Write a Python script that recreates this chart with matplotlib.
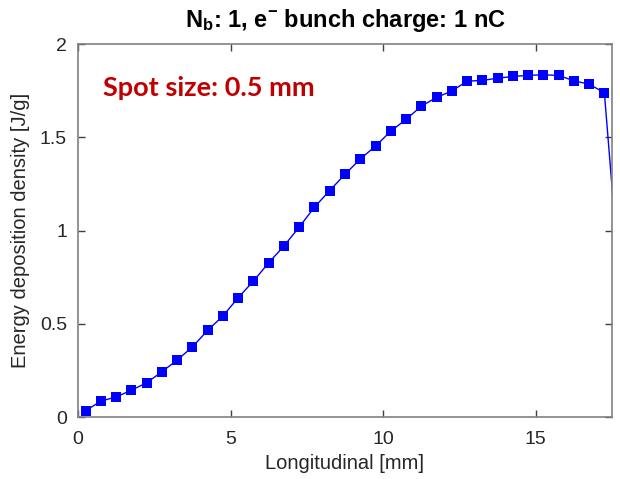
import matplotlib
matplotlib.use("Agg")
import matplotlib.pyplot as plt

plt.rcParams['font.family'] = ['Liberation Sans', 'DejaVu Sans']
plt.rcParams['mathtext.default'] = 'regular'

# Longitudinal position of each sample [mm] and deposited energy density [J/g]
longitudinal_mm = [0.25, 0.75, 1.25, 1.75, 2.25, 2.75, 3.25, 3.75, 4.25, 4.75,
                   5.25, 5.75, 6.25, 6.75, 7.25, 7.75, 8.25, 8.75, 9.25, 9.75,
                   10.25, 10.75, 11.25, 11.75, 12.25, 12.75, 13.25, 13.75, 14.25, 14.75,
                   15.25, 15.75, 16.25, 16.75, 17.25, 17.75]
energy_density = [0.035, 0.087, 0.109, 0.145, 0.185, 0.244, 0.307, 0.377, 0.466, 0.543,
                  0.641, 0.730, 0.828, 0.918, 1.019, 1.126, 1.215, 1.302, 1.384, 1.453,
                  1.533, 1.596, 1.667, 1.714, 1.748, 1.801, 1.805, 1.817, 1.826, 1.832,
                  1.835, 1.832, 1.803, 1.785, 1.739, 0.73]

x_ticks = [0, 5, 10, 15]
y_ticks = [0, 0.5, 1, 1.5, 2]
y_tick_labels = ['0', '0.5', '1', '1.5', '2']

fig = plt.figure(figsize=(6.2, 4.79), dpi=100)
ax = fig.add_axes([0.1258, 0.1288, 0.8613, 0.7793])

ax.plot(longitudinal_mm, energy_density, color='#0000ff', linewidth=1.0,
        marker='s', markersize=6.5, markeredgewidth=0, clip_on=True)

ax.set_xlim(0, 17.5)
ax.set_ylim(0, 2)
ax.set_xticks(x_ticks)
ax.set_xticklabels([str(t) for t in x_ticks])
ax.set_yticks(y_ticks)
ax.set_yticklabels(y_tick_labels)

spine_color = '#808080'
for s in ax.spines.values():
    s.set_color(spine_color)
    s.set_linewidth(1.2)
ax.tick_params(axis='both', direction='in', length=5, width=1.0, color='#404040',
               top=True, right=True, labelsize=14, labelcolor='#262626')
ax.tick_params(axis='x', pad=10)
ax.tick_params(axis='y', pad=8)

ax.set_xlabel('Longitudinal [mm]', fontsize=14.5, color='#262626', labelpad=4)
ax.set_ylabel('Energy deposition density [J/g]', fontsize=14.5, color='#262626', labelpad=7)
ax.set_title(r'N$_b$: 1, e$^{-}$ bunch charge: 1 nC', fontsize=17, fontweight='bold',
             color='#000000', pad=12)

ax.text(0.047, 0.882, 'Spot size: 0.5 mm', transform=ax.transAxes,
        fontsize=19.5, fontweight='bold', color='#c00000', family=['Lato', 'DejaVu Sans'],
        ha='left', va='center')

fig.savefig('out.png', dpi=100)
